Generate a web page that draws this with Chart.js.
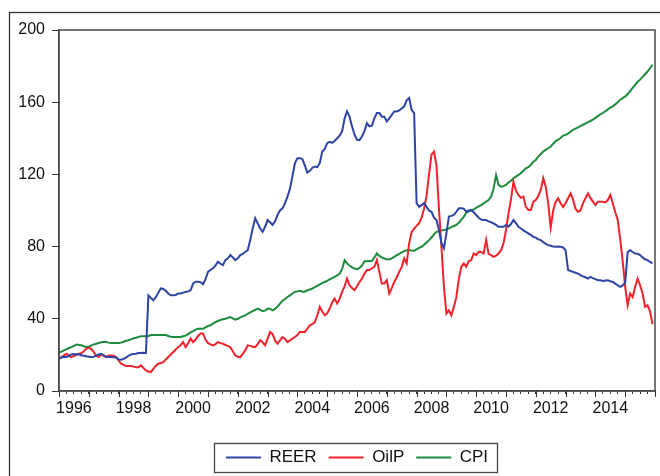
<!DOCTYPE html>
<html><head><meta charset="utf-8">
<script src="https://cdn.jsdelivr.net/npm/chart.js@4.4.0/dist/chart.umd.min.js"></script>
<style>html,body{margin:0;padding:0;background:#fff}#wrap{width:660px;height:476px;position:relative;overflow:hidden}</style>
</head><body><div id="wrap"><canvas id="c" width="660" height="476"></canvas></div>
<script>
const START_YEAR = 1996;
const reer = [
17.9,18.5,19.0,18.8,19.5,20.3,20.5,20.2,20.3,19.8,19.5,19.2,
19.0,18.8,18.9,19.6,20.2,20.6,19.8,19.0,18.8,18.8,18.7,18.5,
17.5,17.3,17.8,18.5,19.5,20.3,20.5,20.6,21.0,21.0,21.2,21.0,
53.0,51.5,50.3,52.0,54.5,56.8,56.5,55.5,54.0,53.0,53.0,53.2,
54.0,54.0,54.5,54.9,55.2,55.8,59.5,60.5,60.5,60.3,59.2,62.0,
66.0,67.0,68.0,69.5,71.6,70.5,69.7,72.5,73.5,75.3,74.0,72.5,
73.5,75.3,76.0,77.0,78.0,83.6,90.0,95.7,92.9,90.0,88.2,91.0,
94.7,93.5,92.0,94.0,97.5,100.0,101.2,104.0,107.7,112.0,119.0,126.2,
129.0,129.0,128.5,125.0,121.0,122.0,123.6,124.4,124.0,126.2,132.7,134.0,
137.3,138.0,137.5,138.5,140.0,141.5,143.8,151.0,154.9,152.0,146.6,142.0,
139.2,139.0,141.0,144.0,148.4,146.6,147.0,151.0,154.0,154.0,152.0,152.0,
149.3,151.0,153.0,154.9,154.9,155.5,156.5,157.7,161.0,162.3,155.8,154.0,
104.0,102.0,103.0,104.0,102.0,100.0,99.3,96.0,94.7,89.2,82.0,79.0,
87.3,96.6,97.0,97.5,99.3,101.2,101.2,101.0,99.3,100.0,100.3,99.0,
97.5,96.0,95.0,94.7,94.7,94.0,93.5,92.9,92.0,91.0,91.0,91.0,
92.0,91.0,92.5,94.7,93.0,91.0,90.0,89.0,88.2,87.3,86.5,85.4,
85.0,84.0,83.6,82.5,81.5,80.8,80.5,80.0,79.9,80.0,79.9,79.5,
78.0,67.0,66.5,66.0,65.5,65.0,64.2,63.5,63.0,62.3,63.2,62.5,
62.0,61.4,61.4,61.0,61.2,61.4,60.8,60.4,59.5,58.5,57.7,58.5,
60.0,77.0,78.0,77.0,76.2,76.0,75.3,74.0,73.0,72.5,71.5,70.7
];
const oilp = [
17.9,18.8,19.8,20.6,19.5,18.8,19.4,20.1,20.6,21.0,22.0,23.4,
24.0,23.2,21.5,19.5,18.8,20.3,19.5,18.8,19.7,19.7,19.5,18.8,
17.0,15.1,14.5,13.8,13.8,13.8,13.5,13.2,13.2,14.2,12.8,11.4,
10.8,10.5,12.3,14.0,15.1,15.5,16.0,17.5,18.8,20.2,21.6,23.0,
24.3,25.5,27.1,24.3,26.5,29.0,27.1,28.5,30.5,31.8,31.8,28.5,
26.5,25.8,25.3,26.0,27.1,26.5,26.2,25.5,25.0,24.3,22.0,19.7,
19.0,18.8,20.6,22.5,25.3,25.0,24.5,24.3,26.0,28.1,27.0,25.3,
29.0,32.7,31.5,28.0,26.2,28.0,29.9,29.0,27.1,28.0,29.0,29.9,
31.0,32.7,32.7,32.7,34.5,36.4,37.0,38.2,42.0,46.6,44.0,41.9,
43.0,45.7,49.0,51.2,48.4,51.0,54.9,58.0,62.3,58.6,57.0,55.8,
58.0,60.4,62.3,65.0,67.0,67.0,68.0,68.8,72.5,66.0,59.6,59.6,
61.4,54.0,57.0,60.4,63.0,66.0,68.8,73.4,70.7,81.8,88.0,90.0,
91.5,92.9,96.0,101.0,108.0,120.0,131.0,132.7,125.0,101.0,79.9,57.7,
42.9,44.7,41.9,46.6,52.0,62.0,68.8,70.7,68.8,72.0,72.5,76.2,
75.3,77.1,77.0,76.2,83.6,76.0,75.3,74.3,75.0,76.2,78.0,81.8,
89.2,98.4,106.0,116.0,111.0,108.6,107.0,107.7,102.0,100.3,100.3,104.9,
105.8,108.0,111.4,117.9,113.2,104.0,90.5,100.0,104.9,106.8,104.0,102.0,
104.0,106.8,109.5,106.0,101.0,99.3,100.0,104.0,106.8,109.5,107.0,104.9,
103.0,104.9,104.9,104.9,104.5,105.8,108.6,104.0,99.0,94.7,84.0,72.0,
57.7,47.5,54.0,52.0,57.7,62.3,58.6,54.0,46.6,47.5,44.0,37.0
];
const cpi = [
21.2,21.8,22.5,23.2,23.8,24.3,25.0,25.7,25.5,25.3,24.8,24.3,
24.5,25.3,25.8,26.2,26.6,27.0,27.1,27.1,26.8,26.6,26.6,26.6,
26.6,26.8,27.3,27.8,28.1,28.6,29.2,29.5,30.0,30.3,30.3,30.3,
30.5,31.0,31.0,31.0,31.0,31.0,31.0,31.0,30.5,30.0,29.9,29.9,
29.9,29.9,30.3,30.7,31.5,32.5,33.2,34.0,34.5,34.5,34.5,35.3,
36.0,36.4,37.3,38.2,38.8,39.3,39.7,40.0,40.5,41.0,40.2,39.5,
40.0,40.8,41.5,41.9,42.8,43.5,44.2,45.0,45.7,45.0,44.2,44.5,
45.5,45.5,44.7,45.5,46.8,48.4,50.0,51.0,52.1,53.0,54.0,54.9,
55.2,55.5,55.0,55.0,55.8,56.2,56.8,57.5,58.3,59.0,59.9,60.4,
61.0,61.8,62.5,63.2,64.0,65.0,67.5,72.5,70.7,69.5,68.5,67.9,
67.4,68.2,69.5,71.9,71.9,72.0,72.0,74.0,76.2,74.8,74.0,73.4,
73.0,72.9,73.5,74.3,75.2,76.0,76.8,77.5,78.0,78.0,77.8,77.7,
78.5,79.3,79.9,81.0,82.3,83.6,85.0,86.8,88.2,88.5,89.0,89.2,
89.5,90.1,90.8,91.4,92.0,93.2,95.0,96.5,98.8,99.5,100.0,100.6,
101.5,102.3,103.0,104.0,104.9,105.8,107.7,112.0,119.7,114.2,113.2,113.5,
114.2,115.5,116.5,117.9,118.8,119.7,120.7,122.0,123.4,124.0,125.3,127.0,
128.0,129.9,131.3,132.7,133.6,134.5,135.4,137.0,138.5,139.2,140.2,141.5,
141.9,142.6,143.6,144.7,145.4,146.0,146.8,147.5,148.2,149.0,149.6,150.3,
151.3,152.3,153.2,154.0,155.0,156.0,157.0,157.7,158.8,160.0,161.4,162.3,
163.2,164.5,166.2,167.9,169.6,171.3,172.5,174.0,175.5,177.0,178.8,180.8
];
const seriesNames = ['REER', 'OilP', 'CPI'];
const seriesColors = ['#2D44A6', '#F2222B', '#1C8B3B'];
const yTickValues = [0, 40, 80, 120, 160, 200];
const xLabelYears = [1996, 1998, 2000, 2002, 2004, 2006, 2008, 2010, 2012, 2014];
const dates = reer.map((_, i) => START_YEAR + i / 12);

const FONT = "Arial, 'Liberation Sans', sans-serif";

function toPoints(arr) { return arr.map((v, i) => ({ x: dates[i], y: v })); }

const framePlugin = {
  id: 'frame',
  beforeDraw(chart) {
    const ctx = chart.ctx;
    ctx.save();
    ctx.fillStyle = '#fff';
    ctx.fillRect(0, 0, chart.width, chart.height);
    ctx.strokeStyle = '#333';
    ctx.lineWidth = 1.3;
    ctx.strokeRect(9.5, 12.5, chart.width + 40, chart.height + 40);
    ctx.restore();
  },
  afterDraw(chart) {
    const { ctx, chartArea: a } = chart;
    const x = chart.scales.x;
    ctx.save();
    ctx.strokeStyle = '#4a4a4a';
    ctx.lineWidth = 1.5;
    ctx.strokeRect(a.left, a.top, a.right - a.left, a.bottom - a.top);
    ctx.strokeStyle = '#333';
    ctx.lineWidth = 1;
    for (let yr = START_YEAR; yr <= START_YEAR + 20; yr++) {
      const px = Math.round(x.getPixelForValue(yr)) + 0.5;
      ctx.beginPath();
      ctx.moveTo(px, a.bottom);
      ctx.lineTo(px, a.bottom + 6);
      ctx.stroke();
    }
    const hb = chart.legend.legendHitBoxes;
    if (hb && hb.length) {
      const l = hb[0].left - 12;
      const last = hb[hb.length - 1];
      const r = last.left + last.width + 9;
      const cy = hb[0].top + hb[0].height / 2;
      ctx.strokeStyle = '#444';
      ctx.lineWidth = 1.3;
      ctx.strokeRect(Math.round(l) + 0.5, Math.round(cy - 15) + 0.5, Math.round(r - l), 29);
    }
    ctx.restore();
  }
};

new Chart(document.getElementById('c'), {
  type: 'line',
  data: {
    datasets: [reer, oilp, cpi].map((arr, k) => ({
      label: seriesNames[k],
      data: toPoints(arr),
      borderColor: seriesColors[k],
      backgroundColor: seriesColors[k],
      borderWidth: 2,
      pointRadius: 0,
      tension: 0,
      fill: false
    }))
  },
  options: {
    responsive: false,
    animation: false,
    devicePixelRatio: 1,
    layout: { padding: { top: 30, right: 1, left: 0, bottom: 0 } },
    plugins: {
      tooltip: { enabled: false },
      legend: {
        position: 'bottom',
        fullSize: false,
        labels: {
          font: { family: FONT, size: 17 },
          color: '#111',
          boxWidth: 35,
          boxHeight: 2,
          padding: 12,
          generateLabels(chart) {
            return Chart.defaults.plugins.legend.labels.generateLabels(chart).map(it => ({ ...it, lineWidth: 0 }));
          }
        }
      }
    },
    scales: {
      x: {
        type: 'linear',
        min: START_YEAR,
        max: START_YEAR + 20,
        afterBuildTicks(scale) {
          const t = [];
          for (let q = 0; q <= 80; q++) t.push({ value: START_YEAR + q / 4 });
          scale.ticks = t;
        },
        afterFit(scale) { scale.height = 46; },
        grid: { drawOnChartArea: false, drawTicks: true, tickLength: 3, color: '#333' },
        border: { display: true, color: '#4a4a4a', width: 1.5 },
        ticks: {
          autoSkip: false,
          maxRotation: 0,
          padding: 5,
          color: '#111',
          font: { family: FONT, size: 16 },
          callback(value) {
            const yr = Math.floor(value + 1e-9);
            const frac = value - yr;
            if (Math.abs(frac - 0.5) < 1e-6 && xLabelYears.includes(yr)) return String(yr);
            return '';
          }
        }
      },
      y: {
        type: 'linear',
        min: 0,
        max: 200,
        afterBuildTicks(scale) { scale.ticks = yTickValues.map(v => ({ value: v })); },
        afterFit(scale) { scale.width = 59; },
        grid: { drawOnChartArea: false, drawTicks: true, tickLength: 7, color: '#333' },
        border: { display: true, color: '#4a4a4a', width: 1.5 },
        ticks: {
          padding: 7,
          color: '#111',
          font: { family: FONT, size: 16 }
        }
      }
    }
  },
  plugins: [framePlugin]
});
</script>
</body></html>
